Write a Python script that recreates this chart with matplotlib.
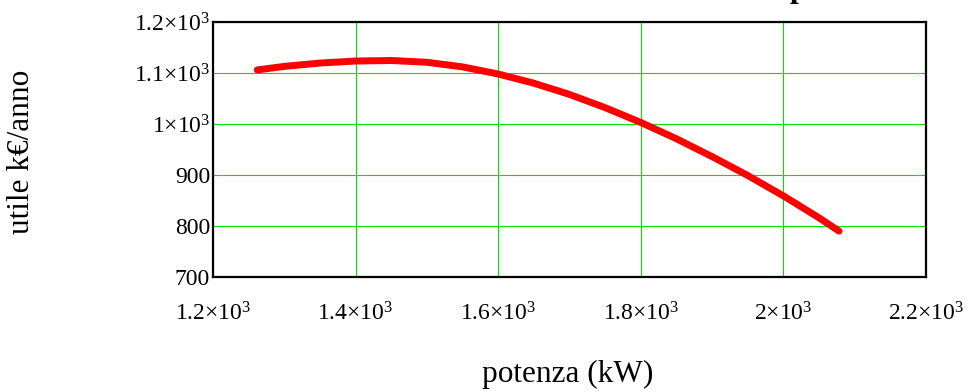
import matplotlib
matplotlib.use("Agg")
import matplotlib.pyplot as plt

plt.rcParams['font.family'] = ['Liberation Serif', 'DejaVu Serif']
plt.rcParams['mathtext.fontset'] = 'custom'
plt.rcParams['mathtext.rm'] = 'Liberation Serif'
plt.rcParams['mathtext.it'] = 'Liberation Serif:italic'

# potenza (kW) e utile (k€/anno)
potenza = [1262, 1300, 1350, 1400, 1450, 1500, 1550, 1600, 1650, 1700,
           1750, 1800, 1850, 1900, 1950, 2000, 2050, 2078]
utile = [1106, 1113, 1119.5, 1123.5, 1124.5, 1121, 1112, 1098, 1080, 1058,
         1032, 1003, 971, 936, 899, 859, 816, 790]

x_ticks = [1200, 1400, 1600, 1800, 2000, 2200]
x_labels = ['1.2×10$^3$', '1.4×10$^3$', '1.6×10$^3$', '1.8×10$^3$', '2×10$^3$', '2.2×10$^3$']
y_ticks = [700, 800, 900, 1000, 1100, 1200]
y_labels = ['700', '800', '900', '1×10$^3$', '1.1×10$^3$', '1.2×10$^3$']

fig = plt.figure(figsize=(9.73, 3.92), dpi=100)
ax = fig.add_axes([213/973, 1-277/392, (926-213)/973, (277-22)/392])

ax.plot(potenza, utile, color='red', lw=5, solid_capstyle='round',
        solid_joinstyle='round', zorder=3)

ax.set_xlim(1200, 2200)
ax.set_ylim(700, 1200)
ax.set_xticks(x_ticks)
ax.set_xticklabels(x_labels)
ax.set_yticks(y_ticks)
ax.set_yticklabels(y_labels)
ax.tick_params(axis='both', length=0, labelsize=17)
ax.tick_params(axis='x', pad=18)
ax.tick_params(axis='y', pad=2)
ax.grid(True, color='#00e000', lw=0.8)
for s in ax.spines.values():
    s.set_linewidth(1.6)
    s.set_color('black')

fig.text(568/973, 1-382/392, 'potenza (kW)', ha='center', va='baseline', fontsize=22.5)
fig.text(22/973, 1-152/392, 'utile k€/anno', ha='center', va='center',
         rotation=90, fontsize=22.5)
# titolo tagliato in alto
fig.text(798/973, 1+3/392, 'p', ha='center', va='baseline', fontsize=22.5, fontweight='bold')

fig.savefig('out.png', dpi=100)
